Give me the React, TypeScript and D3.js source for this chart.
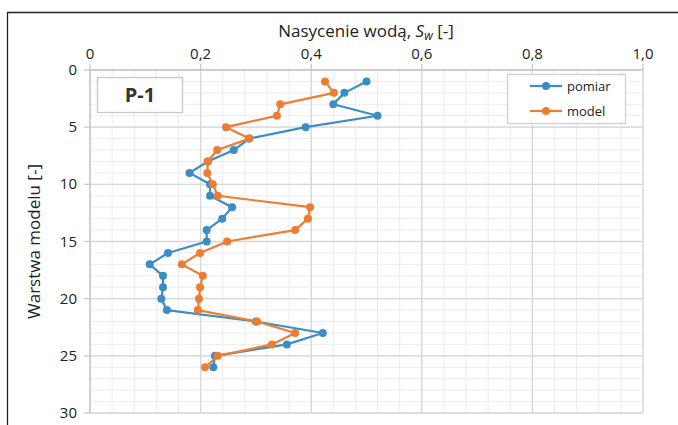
import React from "react";
import * as d3 from "d3";

// Layer index (model layer number)
const layers = [1, 2, 3, 4, 5, 6, 7, 8, 9, 10, 11, 12, 13, 14, 15, 16, 17, 18, 19, 20, 21, 22, 23, 24, 25, 26];
// Measured water saturation ("pomiar")
const pomiar = [0.50, 0.46, 0.44, 0.52, 0.39, 0.288, 0.26, 0.213, 0.18, 0.217, 0.217, 0.257, 0.239, 0.211, 0.211, 0.141, 0.108, 0.132, 0.132, 0.129, 0.139, 0.30, 0.421, 0.356, 0.226, 0.223];
// Simulated water saturation ("model")
const model = [0.425, 0.441, 0.344, 0.338, 0.246, 0.288, 0.23, 0.213, 0.212, 0.222, 0.231, 0.398, 0.394, 0.371, 0.248, 0.199, 0.166, 0.204, 0.199, 0.197, 0.195, 0.302, 0.371, 0.329, 0.231, 0.208];

const xTicks = [0, 0.2, 0.4, 0.6, 0.8, 1.0];
const yTicks = [0, 5, 10, 15, 20, 25, 30];
const seriesNames = ["pomiar", "model"];

const W = 678;
const H = 425;
const left = 90;
const right = 643;
const top = 70;
const bottom = 413;

const BLUE = "#3b8dc6";
const ORANGE = "#ed7d31";
const FONT = "'Open Sans', 'Noto Sans', sans-serif";

export default function App() {
  const x = d3.scaleLinear().domain([0, 1]).range([left, right]);
  const y = d3.scaleLinear().domain([0, 30]).range([top, bottom]);
  const fmt = (v: number) => d3.format(".1f")(v).replace(".", ",");

  const minorX = d3.range(0, 1.0001, 0.04);
  const minorY = d3.range(0, 31, 1);

  const line = d3
    .line<[number, number]>()
    .x((d) => x(d[0]))
    .y((d) => y(d[1]));

  const series = [
    { name: seriesNames[0], color: BLUE, values: pomiar },
    { name: seriesNames[1], color: ORANGE, values: model },
  ];

  return (
    <svg
      width={W}
      height={H}
      style={{ position: "absolute", left: 0, top: 0, background: "#fff" }}
      fontFamily={FONT}
    >
      <rect x={0} y={0} width={W} height={H} fill="#fff" />
      {/* outer frame */}
      <path d={`M7.5,${H} V12.5 H${W}`} fill="none" stroke="#222" strokeWidth={1.3} />

      {/* minor grid */}
      {minorX.map((v, i) => (
        <line key={"mx" + i} x1={x(v)} x2={x(v)} y1={top} y2={bottom} stroke="#ececec" strokeWidth={1} />
      ))}
      {minorY.map((v, i) => (
        <line key={"my" + i} x1={left} x2={right} y1={y(v)} y2={y(v)} stroke="#ececec" strokeWidth={1} />
      ))}
      {/* major grid */}
      {xTicks.map((v, i) => (
        <line key={"gx" + i} x1={x(v)} x2={x(v)} y1={top} y2={bottom} stroke="#d6d6d6" strokeWidth={1.3} />
      ))}
      {yTicks.map((v, i) => (
        <line key={"gy" + i} x1={left} x2={right} y1={y(v)} y2={y(v)} stroke="#d6d6d6" strokeWidth={1.3} />
      ))}

      {/* axis lines and ticks */}
      <line x1={left} x2={left} y1={top} y2={bottom} stroke="#c8c8c8" strokeWidth={1.3} />
      <line x1={left} x2={right} y1={top} y2={top} stroke="#c8c8c8" strokeWidth={1.3} />
      {yTicks.map((v, i) => (
        <line key={"ty" + i} x1={left - 6} x2={left} y1={y(v)} y2={y(v)} stroke="#c8c8c8" strokeWidth={1.3} />
      ))}
      {xTicks.map((v, i) => (
        <line key={"tx" + i} x1={x(v)} x2={x(v)} y1={top - 6} y2={top} stroke="#c8c8c8" strokeWidth={1.3} />
      ))}

      {/* tick labels */}
      {xTicks.map((v, i) => (
        <text key={"lx" + i} x={x(v)} y={top - 11} textAnchor="middle" fontSize={15} fill="#222">
          {v === 0 ? "0" : fmt(v)}
        </text>
      ))}
      {yTicks.map((v, i) => (
        <text key={"ly" + i} x={left - 13} y={y(v) + 5} textAnchor="end" fontSize={15} fill="#222">
          {v}
        </text>
      ))}

      {/* axis titles */}
      <text x={366} y={37} textAnchor="middle" fontSize={17} fill="#222">
        Nasycenie wodą, <tspan fontStyle="italic">S</tspan>
        <tspan fontStyle="italic" fontSize={12} dy={3}>w</tspan>
        <tspan dy={-3}> [-]</tspan>
      </text>
      <text
        transform={`translate(40,${(top + bottom) / 2}) rotate(-90)`}
        textAnchor="middle"
        fontSize={17}
        fill="#222"
      >
        Warstwa modelu [-]
      </text>

      {/* well label */}
      <rect x={97.5} y={77.5} width={85} height={35} fill="#fff" stroke="#c8c8c8" strokeWidth={1.3} />
      <text x={140} y={102} textAnchor="middle" fontSize={20} fontWeight="bold" fill="#333">
        P-1
      </text>

      {/* series */}
      {series.map((s) => {
        const pts: [number, number][] = s.values.map((v, i) => [v, layers[i]]);
        return (
          <g key={s.name}>
            <path d={line(pts) || ""} fill="none" stroke={s.color} strokeWidth={2.2} strokeLinejoin="round" />
            {pts.map((p, i) => (
              <circle key={i} cx={x(p[0])} cy={y(p[1])} r={4} fill={s.color} />
            ))}
          </g>
        );
      })}

      {/* legend */}
      <rect x={507.5} y={74.5} width={118} height={49} fill="#fff" stroke="#d0d0d0" strokeWidth={1.3} />
      {series.map((s, i) => {
        const ly = 86 + i * 25;
        return (
          <g key={"lg" + s.name}>
            <line x1={530} x2={562} y1={ly} y2={ly} stroke={s.color} strokeWidth={2.2} />
            <circle cx={546} cy={ly} r={4} fill={s.color} />
            <text x={567} y={ly + 5} fontSize={13} fill="#222">
              {s.name}
            </text>
          </g>
        );
      })}
    </svg>
  );
}
